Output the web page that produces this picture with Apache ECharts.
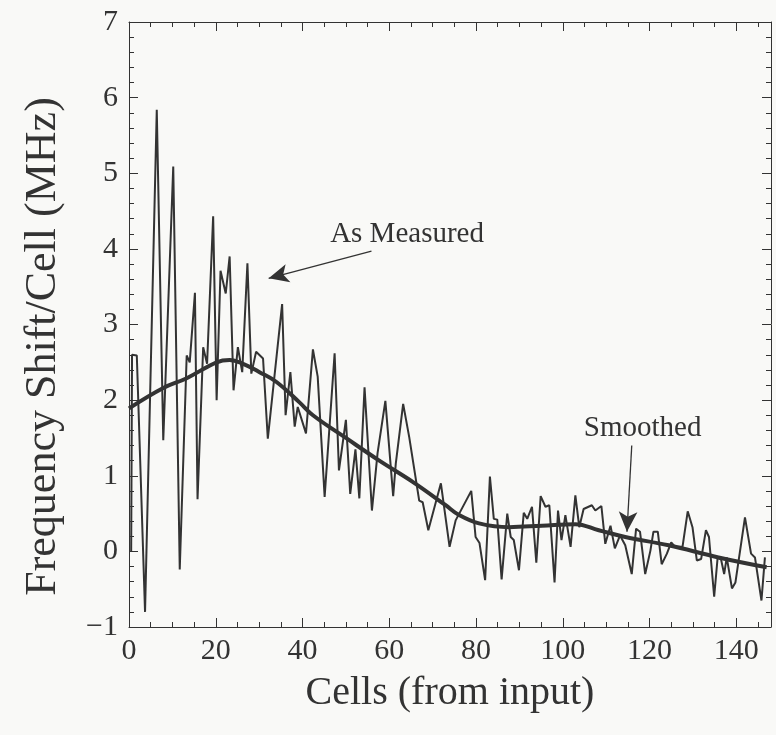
<!DOCTYPE html>
<html>
<head>
<meta charset="utf-8">
<script src="https://cdn.jsdelivr.net/npm/echarts@6/dist/echarts.min.js"></script>
<style>
html,body{margin:0;padding:0;background:#f9f9f7;}
#chart{width:776px;height:735px;}
</style>
</head>
<body>
<div id="chart"></div>
<script>
// "As Measured" curve (cell, MHz)
var measuredX = [0.5,0.7,1.8,3.7,6.4,7.9,10.2,11.7,13.3,14.0,15.2,15.8,17.1,18.0,19.4,20.2,21.1,22.3,23.2,24.1,25.1,26.1,27.3,28.2,29.3,30.9,32.0,35.3,36.1,37.2,38.2,38.9,40.8,42.4,43.5,45.1,47.4,48.4,50.0,51.0,52.2,53.1,54.3,56.0,57.3,59.1,60.9,61.5,63.2,64.6,66.9,67.7,69.0,71.9,73.9,75.3,78.9,79.9,80.8,82.1,83.2,84.1,84.9,85.9,87.2,88.0,88.7,89.9,91.0,91.8,92.9,93.9,94.9,96.0,96.9,98.1,98.9,99.7,100.6,101.8,102.9,103.8,104.8,106.7,107.5,108.9,109.8,111.0,112.0,113.2,114.4,115.9,116.9,117.8,119.0,120.2,120.9,121.9,122.8,124.0,125.0,125.9,127.6,128.8,129.9,130.9,131.9,133.0,133.7,134.9,135.7,136.5,137.2,137.8,139.0,139.8,142.0,143.4,144.3,145.8,146.6];
var measuredY = [0.0,2.6,2.59,-0.80,5.84,1.47,5.09,-0.24,2.59,2.50,3.42,0.69,2.70,2.48,4.43,2.00,3.71,3.41,3.90,2.13,2.70,2.37,3.81,2.35,2.64,2.55,1.49,3.27,1.80,2.37,1.65,1.91,1.56,2.67,2.31,0.72,2.62,1.07,1.74,0.76,1.35,0.70,2.17,0.54,1.30,1.99,0.73,1.16,1.95,1.51,0.67,0.65,0.28,0.90,0.06,0.41,0.80,0.19,0.11,-0.38,0.99,0.43,0.42,-0.37,0.50,0.19,0.15,-0.25,0.51,0.43,0.59,-0.15,0.73,0.59,0.61,-0.41,0.54,0.15,0.48,0.06,0.74,0.32,0.56,0.61,0.54,0.60,0.10,0.34,0.04,0.21,0.08,-0.30,0.30,0.26,-0.30,0.01,0.26,0.26,-0.17,-0.03,0.12,0.06,0.06,0.53,0.32,-0.12,-0.10,0.28,0.19,-0.60,-0.08,-0.11,-0.30,-0.08,-0.49,-0.41,0.45,-0.03,-0.08,-0.65,-0.08];
// "Smoothed" curve
var smoothX = [0,7.9,13.3,20.2,23.2,26.3,30.1,34.0,39.3,42.4,50,57.7,65.4,73,76.1,80.7,87.6,95.2,102.9,108.3,114.4,124.4,135.9,147];
var smoothY = [1.89,2.16,2.29,2.50,2.53,2.48,2.37,2.24,1.97,1.80,1.50,1.20,0.92,0.61,0.48,0.37,0.32,0.34,0.36,0.28,0.19,0.08,-0.08,-0.21];
// axis ticks
var xTicks = [0,20,40,60,80,100,120,140];
var yTicks = [-1,0,1,2,3,4,5,6,7];
// annotations: [tailX, tailY, tipX, tipY]
var measuredArrow = [55.9,3.97,32.2,3.61];
var smoothArrow = [115.9,1.40,114.8,0.26];
var measuredLabel = ["As Measured",64.1,4.19];
var smoothLabel = ["Smoothed",118.4,1.63];

function pairs(xs, ys){ var o=[]; for(var i=0;i<xs.length;i++) o.push([xs[i],ys[i]]); return o; }

var FONT = '"Liberation Serif", "DejaVu Serif", serif';
var INK = '#333333';

function xAxisCfg(pos, showLabels){
  return {
    type:'value', position:pos, min:0, max:148, interval:20,
    axisLine:{show:true, onZero:false, lineStyle:{color:INK, width:1}},
    axisTick:{show:true, inside:true, length:9, lineStyle:{color:INK}},
    minorTick:{show:true, splitNumber:4, length:5, lineStyle:{color:INK}},
    splitLine:{show:false},
    axisLabel:{show:showLabels, margin:9, fontFamily:FONT, fontSize:30, color:INK, showMaxLabel:false,
      formatter:function(v){ return xTicks.indexOf(v)>=0 ? String(v) : ''; }},
    name: showLabels ? 'Cells (from input)' : '',
    nameLocation:'middle', nameGap:46,
    nameTextStyle:{fontFamily:FONT, fontSize:40, color:INK}
  };
}
function yAxisCfg(pos, showLabels){
  return {
    type:'value', position:pos, min:-1, max:7, interval:1,
    axisLine:{show:true, onZero:false, lineStyle:{color:INK, width:1}},
    axisTick:{show:true, inside:true, length:9, lineStyle:{color:INK}},
    minorTick:{show:true, splitNumber:5, length:5, lineStyle:{color:INK}},
    splitLine:{show:false},
    axisLabel:{show:showLabels, margin:11, fontFamily:FONT, fontSize:30, color:INK,
      formatter:function(v){ return yTicks.indexOf(v)>=0 ? (v<0 ? '\u2212'+Math.abs(v) : String(v)) : ''; }},
    name: showLabels ? 'Frequency Shift/Cell (MHz)' : '',
    nameLocation:'middle', nameGap:64, nameRotate:90,
    nameTextStyle:{fontFamily:FONT, fontSize:44, color:INK, padding:[0,44,0,0]}
  };
}

var chart = echarts.init(document.getElementById('chart'), null, {renderer:'canvas'});
chart.setOption({
  backgroundColor:'#f9f9f7',
  animation:false,
  grid:{left:129, right:5, top:22, bottom:108},
  xAxis:[xAxisCfg('bottom', true), xAxisCfg('top', false)],
  yAxis:[yAxisCfg('left', true), yAxisCfg('right', false)],
  series:[
    {
      type:'line', name:'As Measured', data:pairs(measuredX, measuredY),
      showSymbol:false, symbol:'none',
      lineStyle:{color:'#333', width:2}, z:3,
      markLine:{
        silent:true, symbol:['none','arrow'], symbolSize:[14,20],
        lineStyle:{color:'#333', width:1.3, type:'solid'},
        label:{show:false},
        data:[[{coord:[measuredArrow[0],measuredArrow[1]]},{coord:[measuredArrow[2],measuredArrow[3]]}],
              [{coord:[smoothArrow[0],smoothArrow[1]]},{coord:[smoothArrow[2],smoothArrow[3]]}]]
      },
      markPoint:{
        silent:true, symbol:'circle', symbolSize:0,
        label:{show:true, fontFamily:FONT, fontSize:29, color:INK, position:'inside',
          formatter:function(p){ return p.name; }},
        data:[{name:measuredLabel[0], coord:[measuredLabel[1],measuredLabel[2]]},
              {name:smoothLabel[0], coord:[smoothLabel[1],smoothLabel[2]]}]
      }
    },
    {
      type:'line', name:'Smoothed', data:pairs(smoothX, smoothY),
      smooth:0.4, showSymbol:false, symbol:'none',
      lineStyle:{color:'#333', width:4}, z:4
    }
  ]
});
</script>
</body>
</html>
